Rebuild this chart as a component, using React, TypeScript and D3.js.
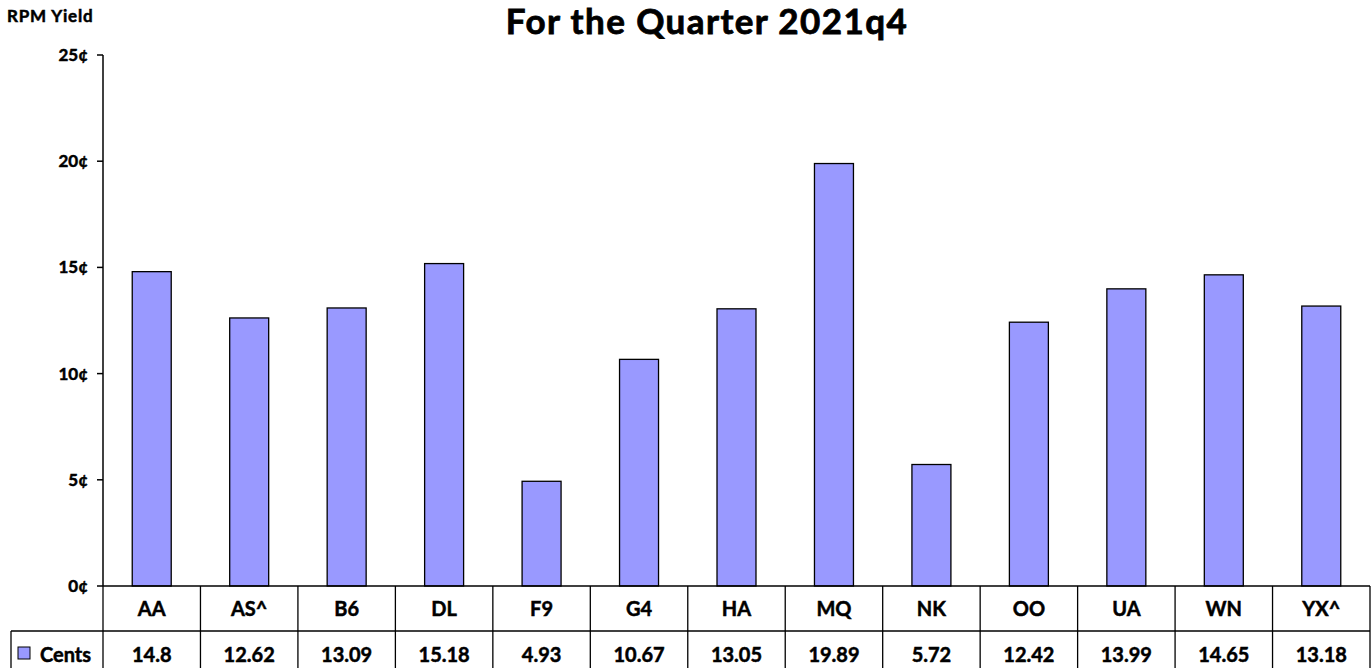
import React from 'react'
import * as d3 from 'd3'

const carriers = ['AA', 'AS^', 'B6', 'DL', 'F9', 'G4', 'HA', 'MQ', 'NK', 'OO', 'UA', 'WN', 'YX^']
const cents = [14.8, 12.62, 13.09, 15.18, 4.93, 10.67, 13.05, 19.89, 5.72, 12.42, 13.99, 14.65, 13.18]
const yTicks = [0, 5, 10, 15, 20, 25]

const W = 1372
const H = 668
const left = 103
const right = 1370
const top = 55
const bottom = 586
const row1 = 631
const row2 = 676
const font = 'Lato, "Open Sans", sans-serif'

function App() {
  const x = d3.scaleBand<string>().domain(carriers).range([left, right]).paddingInner(0).paddingOuter(0)
  const y = d3.scaleLinear().domain([0, 25]).range([bottom, top])
  const barW = x.bandwidth() * 0.4
  // thin outline on text to get closer to the heavier bold of the original
  const txt = { stroke: '#000', strokeWidth: 0.5 }

  return (
    <svg width={W} height={H} style={{ position: 'absolute', left: 0, top: 0, background: '#fff' }} fontFamily={font} fontWeight="bold">
      <text x={7} y={22} fontSize={17} letterSpacing={0.8} {...txt}>RPM Yield</text>
      <text x={707} y={34} fontSize={35} letterSpacing={1.4} textAnchor="middle" {...txt} strokeWidth={0.8}>For the Quarter 2021q4</text>

      {cents.map((v, i) => {
        const cx = x(carriers[i])! + x.bandwidth() / 2
        return (
          <rect key={carriers[i]} x={cx - barW / 2} y={y(v)} width={barW} height={bottom - y(v)}
            fill="#9999ff" stroke="#000" strokeWidth={1.3} />
        )
      })}

      <line x1={left} x2={left} y1={top} y2={bottom} stroke="#000" strokeWidth={1.5} />
      {yTicks.map(t => (
        <g key={t}>
          <line x1={left - 6} x2={left} y1={y(t)} y2={y(t)} stroke="#000" strokeWidth={1.5} />
          <text x={88} y={y(t) + 6} fontSize={17} textAnchor="end" {...txt}>{t}¢</text>
        </g>
      ))}

      {/* data table */}
      <line x1={left} x2={right} y1={bottom} y2={bottom} stroke="#000" strokeWidth={1.5} />
      <line x1={11} x2={right} y1={row1} y2={row1} stroke="#000" strokeWidth={1.3} />
      <line x1={11} x2={11} y1={row1} y2={row2} stroke="#000" strokeWidth={1.3} />
      {carriers.map(c => (
        <line key={'v' + c} x1={x(c)!} x2={x(c)!} y1={bottom} y2={row2} stroke="#000" strokeWidth={1.3} />
      ))}
      <line x1={right} x2={right} y1={bottom} y2={row2} stroke="#000" strokeWidth={1.3} />
      {carriers.map((c, i) => (
        <g key={'t' + c}>
          <text x={x(c)! + x.bandwidth() / 2} y={616} fontSize={20} textAnchor="middle" {...txt}>{c}</text>
          <text x={x(c)! + x.bandwidth() / 2} y={662} fontSize={20} textAnchor="middle" {...txt}>{cents[i]}</text>
        </g>
      ))}
      <rect x={18} y={647} width={12} height={12} fill="#9999ff" stroke="#000" strokeWidth={1} />
      <text x={40} y={662} fontSize={20} {...txt}>Cents</text>
    </svg>
  )
}

export default App
